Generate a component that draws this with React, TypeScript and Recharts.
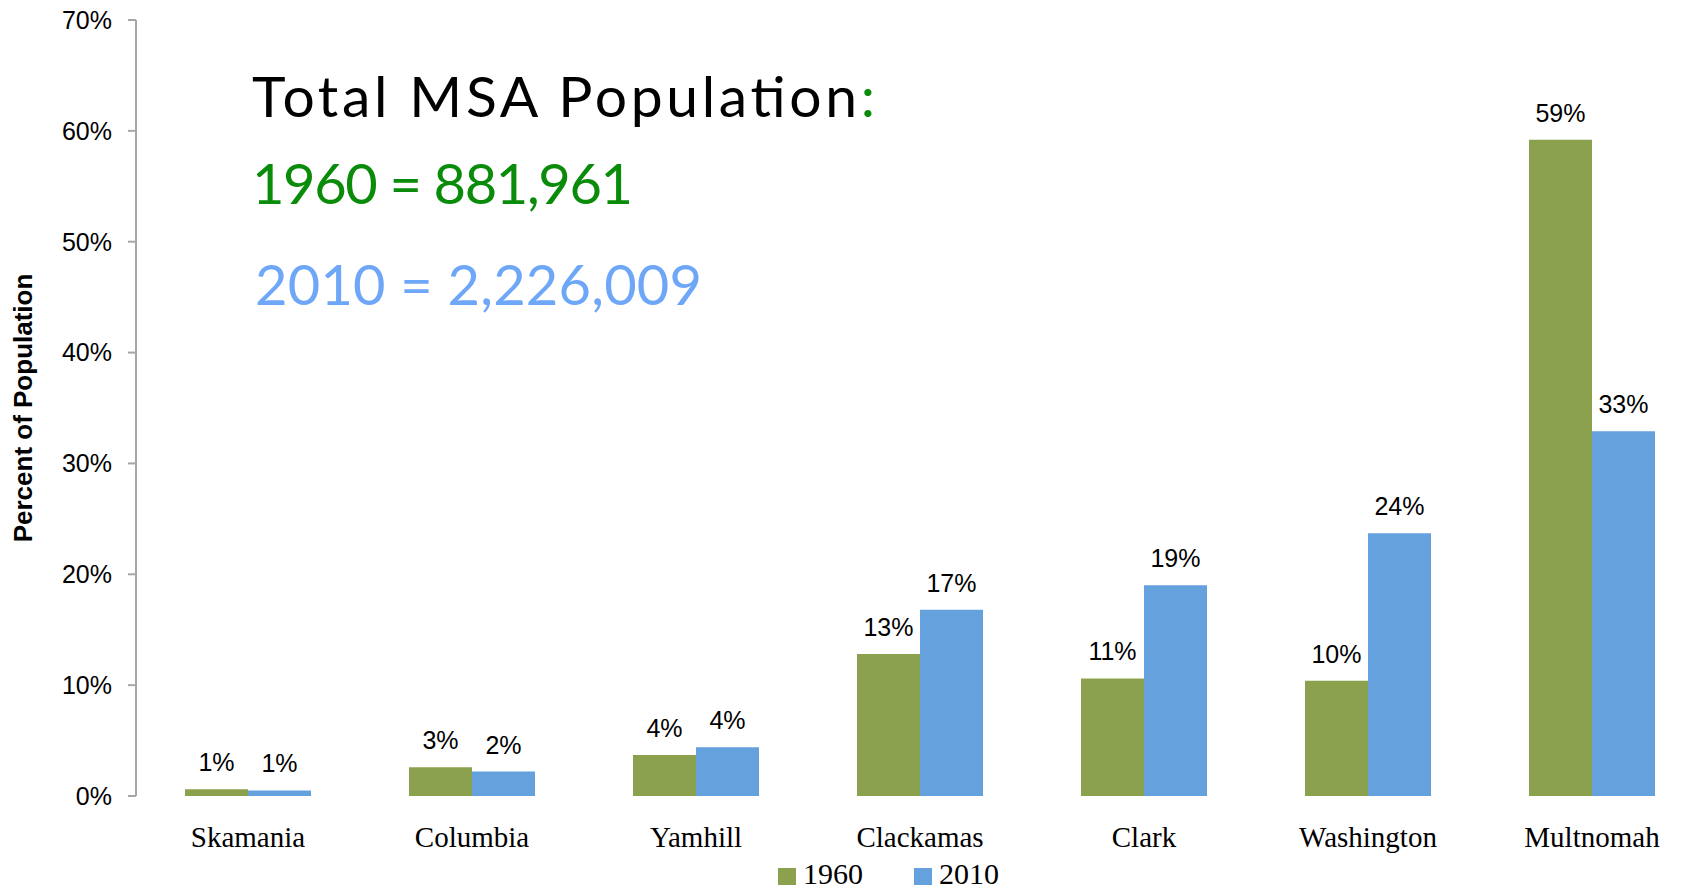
import React from "react";
import {
  BarChart, Bar, XAxis, YAxis, Legend, LabelList,
} from "recharts";

const counties = ["Skamania", "Columbia", "Yamhill", "Clackamas", "Clark", "Washington", "Multnomah"];
const share1960 = [0.6, 2.6, 3.7, 12.8, 10.6, 10.4, 59.2];
const share2010 = [0.5, 2.2, 4.4, 16.8, 19.0, 23.7, 32.9];
const yTicks = [0, 10, 20, 30, 40, 50, 60, 70];
const boundaryTicks = [0, 1, 2, 3, 4, 5, 6, 7];

const data = counties.map((name, i) => ({ name, y1960: share1960[i], y2010: share2010[i] }));

const GREEN = "#8ba14d";
const BLUE = "#65a1dd";
const AXIS = "#a6a6a6";
const SANS = "'Liberation Sans', Arial, sans-serif";
const SERIF = "'Liberation Serif', 'Times New Roman', serif";
const HAND = "'Comic Sans MS', Lato, sans-serif";

const pct = (v: number) => `${Math.round(v)}%`;

// legend box is 40px tall, sitting at the bottom of the chart
function LegendBox({ payload }: { payload?: any[] }) {
  return (
    <svg width={1699} height={40} style={{ display: "block" }}>
      {(payload || []).map((entry, i) => (
        <g key={entry.value} transform={`translate(${778 + i * 136},0)`}>
          <rect x={0} y={17} width={18} height={17} fill={entry.color} />
          <text x={25} y={33} fontFamily={SERIF} fontSize={30} fill="#000">{entry.value}</text>
        </g>
      ))}
    </svg>
  );
}

export default function App() {
  return (
    <div style={{ position: "relative", width: 1699, height: 891, overflow: "hidden", background: "#fff" }}>
      <style>{`body{margin:0}`}</style>
      <BarChart
        width={1704}
        height={891}
        data={data}
        margin={{ top: 20, right: 0, left: 0, bottom: 0 }}
        barCategoryGap={49}
        barGap={0}
      >
        <XAxis
          xAxisId="grid"
          type="number"
          domain={[0, 7]}
          ticks={boundaryTicks}
          allowDataOverflow
          tick={false}
          tickSize={8}
          height={0}
          stroke={AXIS}
          strokeWidth={2}
        />
        <XAxis
          xAxisId="cat"
          dataKey="name"
          axisLine={false}
          tickLine={false}
          tickSize={0}
          tickMargin={30}
          height={55}
          interval={0}
          tick={{ fontFamily: SERIF, fontSize: 29, fill: "#000" }}
        />
        <YAxis
          width={136}
          domain={[0, 70]}
          ticks={yTicks}
          interval={0}
          tickFormatter={(v) => `${v}%`}
          tickSize={8}
          tickMargin={16}
          stroke={AXIS}
          strokeWidth={2}
          tick={{ fontFamily: SANS, fontSize: 25, fill: "#000" }}
          label={{
            content: () => (
              <text
                x={32}
                y={408}
                transform="rotate(-90 32 408)"
                textAnchor="middle"
                fontFamily={SANS}
                fontWeight="bold"
                fontSize={26}
                fill="#000"
              >
                Percent of Population
              </text>
            ),
          }}
        />
        <Legend verticalAlign="bottom" align="left" content={(p: any) => <LegendBox payload={p.payload} />} />
        <Bar xAxisId="cat" dataKey="y1960" name="1960" fill={GREEN} isAnimationActive={false}>
          <LabelList dataKey="y1960" position="top" offset={18} formatter={pct}
            style={{ fontFamily: SANS, fontSize: 25, fill: "#000" }} />
        </Bar>
        <Bar xAxisId="cat" dataKey="y2010" name="2010" fill={BLUE} isAnimationActive={false}>
          <LabelList dataKey="y2010" position="top" offset={18} formatter={pct}
            style={{ fontFamily: SANS, fontSize: 25, fill: "#000" }} />
        </Bar>
      </BarChart>
      <svg width={1699} height={891} style={{ position: "absolute", left: 0, top: 0, pointerEvents: "none" }}>
        <text x={252} y={117} fontFamily={HAND} fontSize={57} fill="#000" textLength={623}>
          Total MSA Population<tspan fill="#0a8c0a">:</tspan>
        </text>
        <text x={252} y={204} fontFamily={HAND} fontSize={56} fill="#0a8c0a" textLength={381}>
          1960 = 881,961
        </text>
        <text x={255} y={305} fontFamily={HAND} fontSize={56} fill="#6ea6f8" textLength={447}>
          2010 = 2,226,009
        </text>
      </svg>
    </div>
  );
}
